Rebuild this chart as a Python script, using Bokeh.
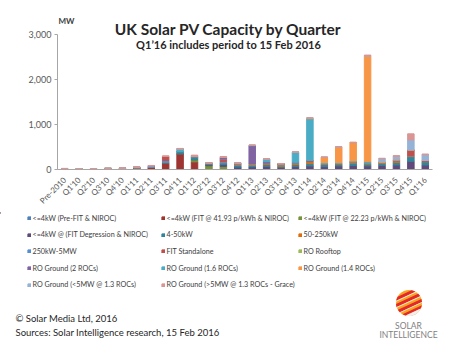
from math import pi, sqrt, sin, cos, radians
from bokeh.plotting import figure
from bokeh.models import (ColumnDataSource, FactorRange, Range1d, FixedTicker,
                          NumeralTickFormatter, Legend, LegendItem)
from bokeh.layouts import column
from bokeh.embed import file_html
from bokeh.resources import INLINE
from bokeh.core.properties import value

# ---------------- data ----------------
quarters = ["Pre-2010", "Q1'10", "Q2'10", "Q3'10", "Q4'10", "Q1'11", "Q2'11", "Q3'11",
            "Q4'11", "Q1'12", "Q2'12", "Q3'12", "Q4'12", "Q1'13", "Q2'13", "Q3'13",
            "Q4'13", "Q1'14", "Q2'14", "Q3'14", "Q4'14", "Q1'15", "Q2'15", "Q3'15",
            "Q4'15", "Q1'16"]

series_names = [
    "<=4kW (Pre-FIT & NIROC)",
    "<=4kW (FIT @ 41.93 p/kWh & NIROC)",
    "<=4kW (FIT @ 22.23 p/kWh & NIROC)",
    "<=4kW @ (FIT Degression & NIROC)",
    "4-50kW",
    "50-250kW",
    "250kW-5MW",
    "FIT Standalone",
    "RO Rooftop",
    "RO Ground (2 ROCs)",
    "RO Ground (1.6 ROCs)",
    "RO Ground (1.4 ROCs)",
    "RO Ground (<5MW @ 1.3 ROCs)",
    "RO Ground (>5MW @ 1.3 ROCs - Grace)",
]

#                 P10 110 210 310 410 111 211 311 411 112 212 312 412 113 213 313 413  114 214 314 414  115 215 315 415 116
pre_fit       = [  6,  3,  2,  2,  0,  0,  0,  0,  0,  0,  0,  0,  0,  0,  0,  0,  0,   0,  0,  0,  0,    0,  0,  0,  0,  0]
fit_4193      = [  0,  0, 14, 18, 25, 35, 50,140,350,170,  0,  0,  0,  0,  0,  0,  0,   0,  0,  0,  0,    0,  0,  0,  0,  0]
fit_2223      = [  0,  0,  0,  0,  0,  0,  0,  0,  0, 50, 85, 70,  0,  0,  0,  0,  0,   0,  0,  0,  0,    0,  0,  0,  0,  0]
fit_degr      = [  0,  0,  0,  0,  0,  0,  0,  0,  0,  0, 20, 40, 55, 60, 70, 50, 70,  80, 70, 80, 90,   80, 90,100,185,100]
kw_4_50       = [  0,  5,  0,  0,  0,  0,  0, 25, 50, 60, 25, 40, 35, 30, 40, 25, 40,  50, 40, 40, 50,   40, 40, 60,100, 70]
kw_50_250     = [  0,  0,  0,  4,  5,  0,  0,  0,  0,  0,  0,  0, 10, 15, 20, 25, 30,  40, 20, 20, 20,   20, 20, 30, 15, 15]
kw_250_5mw    = [  0,  0,  0,  0,  0, 15, 25, 35,  0, 20, 10, 30, 15,  0, 15, 10, 10,  15,  0,  0,  0,    0,  0,  0, 10,  0]
fit_stand     = [ 14,  0,  0,  0,  0,  0,  0, 90,  0,  0,  0, 50, 10,  0, 10, 10, 10,  15,  0,  0, 10,    0,  0, 20,125, 20]
ro_roof       = [  0,  0,  0,  0,  0,  0,  0,  0,  0,  0,  0,  0,  0, 15,  0,  0,  0,   0,  0,  0,  0,   10, 10,  0,  0,  0]
ro_g_2        = [  0,  0,  0,  0,  0,  0, 10,  0,  0,  0,  0, 40, 15,410, 20,  5,  0,   0,  0,  0,  0,    0,  0,  0,  0,  0]
ro_g_16       = [  0,  5,  0,  0,  0,  0,  0,  0, 60,  0,  0,  0,  0, 10, 60,  5,225, 930, 20, 10, 20,   30,  0,  0,  0,  0]
ro_g_14       = [  0,  0,  0,  0,  0,  0,  0,  0,  0,  0,  0,  0,  0,  0,  0,  0,  5,  20,125,350,410, 2350, 10, 20,  0,  0]
ro_g_13_small = [  0,  2,  0,  0,  0,  0,  0,  0,  0,  0,  0,  0, 10,  0,  0,  0,  0,   0,  0,  0,  0,    0, 70, 60,225,125]
ro_g_13_grace = [  5,  0,  4,  1,  5,  5,  5, 15, 10, 20,  5, 20,  0,  0,  0,  0,  0,   0,  0, 10, 10,   20, 10, 20,135, 15]

all_series = [pre_fit, fit_4193, fit_2223, fit_degr, kw_4_50, kw_50_250, kw_250_5mw,
              fit_stand, ro_roof, ro_g_2, ro_g_16, ro_g_14, ro_g_13_small, ro_g_13_grace]

colors = ["#4F81BD", "#9E3532", "#77933C", "#604A7B", "#31859C", "#E46C0A", "#558ED5",
          "#C0504D", "#9BBB59", "#8064A2", "#4BACC6", "#F79646", "#95B3D7", "#D99694"]

y_ticks = [0, 1000, 2000, 3000]
y_max = 3000

title_text = "UK Solar PV Capacity by Quarter"
subtitle_text = "Q1\u201916 includes period to 15 Feb 2016"
unit_text = "MW"
footer_lines = ["\u00a9 Solar Media Ltd, 2016",
                "Sources: Solar Intelligence research, 15 Feb 2016"]
logo_lines = ["SOLAR", "INTELLIGENCE"]

# ---------------- layout constants ----------------
FONT = "Lato"
W = 455
H_MAIN = 212
H_FOOT = 354 - H_MAIN
FL, FR, FT, FB = 57, 432, 36, 177   # left/right of frame, y of 3,000 and of 0
Y_TOP = y_max * FB / (FB - FT)      # value at the top edge of the frame (canvas y = 0)
NQ = len(quarters)


def sx(cx):   # canvas x -> synthetic categorical coordinate
    return (cx - FL) / (FR - FL) * NQ


def sy(cy):   # canvas y -> value coordinate
    return Y_TOP * (FB - cy) / FB


keys = ["s%02d" % i for i in range(len(all_series))]
data = {"q": quarters}
for k, s in zip(keys, all_series):
    data[k] = s
src = ColumnDataSource(data)

p = figure(width=W, height=H_MAIN, title=None,
           x_range=FactorRange(factors=quarters, range_padding=0),
           y_range=Range1d(0, Y_TOP),
           output_backend="svg", toolbar_location=None,
           min_border_left=FL, min_border_right=W - FR,
           min_border_top=0, min_border_bottom=H_MAIN - FB)
p.frame_align = False
p.outline_line_color = None
p.xgrid.visible = False
p.ygrid.visible = False
p.background_fill_color = "white"
p.border_fill_color = "white"

renderers = p.vbar_stack(keys, x="q", width=0.45, color=colors, source=src)

# axes
p.yaxis.bounds = (0, y_max)
p.yaxis.ticker = FixedTicker(ticks=y_ticks)
p.yaxis.formatter = NumeralTickFormatter(format="0,0")
p.yaxis.minor_tick_line_color = None
p.yaxis.major_tick_in = 0
p.yaxis.major_tick_out = 3
p.yaxis.axis_line_color = "#A6A6A6"
p.yaxis.major_tick_line_color = "#A6A6A6"
p.yaxis.major_label_text_font = FONT
p.yaxis.major_label_text_font_size = "9px"
p.yaxis.major_label_text_color = "#595959"
p.yaxis.major_label_standoff = 3

p.xaxis.major_label_orientation = pi / 4
p.xaxis.axis_line_color = "#A6A6A6"
p.xaxis.major_tick_line_color = None
p.xaxis.minor_tick_line_color = None
p.xaxis.major_label_text_font = FONT
p.xaxis.major_label_text_font_size = "8px"
p.xaxis.major_label_text_color = "#595959"
p.xaxis.major_label_standoff = 3

# titles (inside the frame, above the bars)
p.text(x=[sx(228)], y=[sy(30)], text=[title_text],
       text_font=value(FONT), text_font_size="15.5px", text_font_style="bold",
       text_align="center", text_baseline="middle", text_color="#262626")
p.text(x=[sx(228)], y=[sy(46)], text=[subtitle_text],
       text_font=value(FONT), text_font_size="11px", text_font_style="bold",
       text_align="center", text_baseline="middle", text_color="#262626")
p.text(x=[sx(58)], y=[sy(21)], text=[unit_text],
       text_font=value(FONT), text_font_size="8px", text_font_style="bold",
       text_align="left", text_baseline="middle", text_color="#404040")

# ---------------- legend + footer ----------------
Y0 = H_MAIN
f = figure(width=W, height=H_FOOT, title=None,
           x_range=Range1d(0, W), y_range=Range1d(H_FOOT, 0),
           x_axis_type=None, y_axis_type=None,
           output_backend="svg", toolbar_location=None, min_border=0)
f.frame_align = False
f.outline_line_color = None
f.background_fill_color = "white"
f.border_fill_color = "white"
f.xgrid.visible = False
f.ygrid.visible = False

col_x = [26.5, 160.5, 297.5]
row_y = [218, 234.5, 251, 268, 284.5]
LH = 10
for i, (name, c) in enumerate(zip(series_names, colors)):
    # off-screen swatch renderer, used only to draw the legend key
    r = f.vbar(x=[-100000], top=[1], bottom=[0], width=1, color=c)
    cx = col_x[i % 3]
    cy = row_y[i // 3] - Y0
    lg = Legend(items=[LegendItem(label=value(name), renderers=[r])],
                location=(cx, H_FOOT - cy - LH / 2),
                padding=0, margin=0, spacing=0,
                border_line_color=None, background_fill_alpha=0,
                glyph_width=4, glyph_height=4, label_standoff=2, label_height=LH,
                label_text_font=FONT, label_text_font_size="7.2px",
                label_text_color="#404040")
    f.add_layout(lg, "center")

f.text(x=[15, 15], y=[318 - Y0, 332 - Y0], text=footer_lines,
       text_font=value(FONT), text_font_size="9.5px", text_baseline="middle",
       text_color="#262626")

# logo sphere
cxs, cys, R = 408.5, 302.5 - Y0, 13.0
f.circle(x=[cxs], y=[cys], radius=R, fill_color="#F8A51E", line_color=None)


def band(v1, v2, ang=25.0):
    a = radians(ang)
    ux, uy = cos(a), -sin(a)
    nx, ny = sin(a), cos(a)
    n = 10
    vs = [v1 + (v2 - v1) * k / (n - 1) for k in range(n)]
    xs, ys = [], []
    for v in vs:
        u = sqrt(max(R * R - v * v, 0))
        xs.append(cxs + u * ux + v * nx)
        ys.append(cys + u * uy + v * ny)
    for v in reversed(vs):
        u = -sqrt(max(R * R - v * v, 0))
        xs.append(cxs + u * ux + v * nx)
        ys.append(cys + u * uy + v * ny)
    return xs, ys


red_b = [band(-10.5, -7.5), band(-4.5, -1.5), band(1.5, 4.5), band(7.5, 10)]
white_b = [band(-7.5, -6.6), band(-1.5, -0.7), band(4.5, 5.3), band(10, 13)]
f.patches(xs=[b[0] for b in red_b], ys=[b[1] for b in red_b], fill_color="#E5262A", line_color=None)
f.patches(xs=[b[0] for b in white_b], ys=[b[1] for b in white_b], fill_color="#EFEFEF", line_color=None)

f.text(x=[408, 408], y=[325 - Y0, 334 - Y0], text=logo_lines,
       text_font=value(FONT), text_font_size="8.5px", text_baseline="middle",
       text_align="center", text_color="#7F7F7F")

layout = column(p, f, spacing=0)
open("out.html", "w").write(file_html(layout, INLINE))
